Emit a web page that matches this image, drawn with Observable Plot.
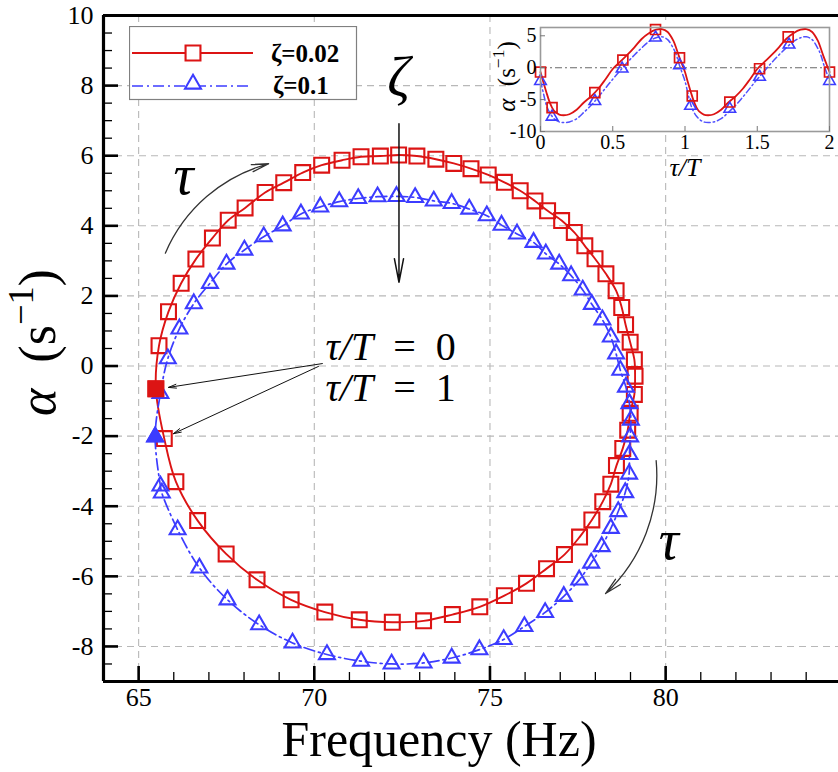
<!DOCTYPE html>
<html>
<head>
<meta charset="utf-8">
<script src="https://cdn.jsdelivr.net/npm/d3@7"></script>
<script src="https://cdn.jsdelivr.net/npm/@observablehq/plot@0.6"></script>
<style>
  body { margin: 0; background: #fff; }
  #wrap { position: relative; width: 838px; height: 772px; overflow: hidden; font-family: "Liberation Serif", serif; }
  #wrap > svg { position: absolute; }
  #wrap svg, #wrap svg text, #wrap svg g { font-family: "Liberation Serif", serif !important; }
</style>
</head>
<body>
<div id="wrap"></div>
<script>
// ---------------- data ----------------
// main plot: zeta = 0.02 (red squares), frequency (Hz) and alpha (1/s)
const redFreq = [65.49,65.58,65.85,66.21,66.63,67.10,67.55,68.03,68.60,69.13,69.67,70.21,70.79,71.33,71.88,72.40,72.92,73.46,73.97,74.46,74.95,75.41,75.86,76.28,76.64,77.04,77.40,77.70,77.99,78.30,78.59,78.75,78.86,78.99,79.11,79.13,79.11,78.99,78.92,78.78,78.60,78.44,78.21,77.90,77.55,77.12,76.61,76.04,75.41,74.71,73.93,73.11,72.22,71.28,70.30,69.34,68.37,67.49,66.68,66.06,65.73];
const redAlpha = [-0.65,0.58,1.55,2.36,3.05,3.65,4.16,4.51,4.95,5.23,5.52,5.73,5.87,5.97,5.99,6.02,5.99,5.90,5.78,5.63,5.45,5.24,5.00,4.71,4.43,4.15,3.81,3.43,3.06,2.63,2.15,1.67,1.18,0.68,0.18,-0.29,-0.81,-1.35,-1.83,-2.35,-2.84,-3.37,-3.87,-4.39,-4.88,-5.38,-5.78,-6.20,-6.55,-6.87,-7.09,-7.27,-7.31,-7.24,-7.02,-6.67,-6.10,-5.36,-4.41,-3.30,-2.07];
// zeta = 0.1 (blue triangles)
const blueFreq = [65.47,65.62,65.83,66.16,66.57,67.03,67.50,68.01,68.56,69.10,69.62,70.17,70.71,71.25,71.80,72.34,72.87,73.40,73.91,74.41,74.91,75.33,75.77,76.24,76.59,76.97,77.31,77.64,77.90,78.20,78.44,78.59,78.71,78.87,78.97,79.01,78.99,78.97,78.96,78.85,78.65,78.44,78.18,77.88,77.54,77.10,76.57,75.98,75.39,74.70,73.91,73.11,72.20,71.33,70.36,69.38,68.43,67.53,66.73,66.11,65.66,65.62];
const blueAlpha = [-2.02,-0.78,0.21,1.06,1.78,2.36,2.91,3.31,3.69,4.00,4.34,4.54,4.69,4.78,4.83,4.84,4.81,4.71,4.64,4.48,4.29,4.02,3.77,3.53,3.20,2.91,2.58,2.17,1.76,1.32,0.83,0.35,-0.12,-0.60,-1.07,-1.54,-2.02,-2.52,-3.08,-3.61,-4.15,-4.63,-5.15,-5.62,-6.10,-6.57,-7.03,-7.43,-7.80,-8.09,-8.33,-8.47,-8.50,-8.42,-8.23,-7.90,-7.38,-6.67,-5.76,-4.67,-3.62,-3.42];

// inset: alpha vs tau/T
const insetTau = [0,0.02,0.04,0.06,0.08,0.10,0.13,0.16,0.20,0.25,0.30,0.35,0.40,0.45,0.50,0.55,0.60,0.65,0.70,0.75,0.80,0.84,0.88,0.92,0.94,0.96,0.98,
                  1.00,1.02,1.04,1.06,1.08,1.10,1.13,1.16,1.20,1.25,1.30,1.35,1.40,1.45,1.50,1.55,1.60,1.65,1.70,1.75,1.80,1.84,1.88,1.92,1.94,1.96,1.98,2.00];
const insetRedAlpha = [-0.68,-2.3,-3.8,-5.2,-6.25,-6.9,-7.35,-7.45,-7.3,-6.6,-5.45,-4.5,-3.3,-1.8,-0.2,0.9,2.0,3.2,4.5,5.4,5.95,6.05,5.6,4.2,3.0,1.7,0.5,
                       -0.68,-2.3,-3.8,-5.2,-6.25,-6.9,-7.35,-7.45,-7.3,-6.6,-5.45,-4.5,-3.3,-1.8,-0.2,0.9,2.0,3.2,4.5,5.4,5.95,6.05,5.6,4.2,3.0,1.7,0.5,-0.68];
const insetBlueAlpha = [-2.1,-4.0,-5.8,-6.9,-7.6,-8.1,-8.5,-8.6,-8.5,-8.0,-7.0,-5.9,-4.6,-3.2,-1.8,-0.5,0.8,2.0,3.1,4.1,4.7,4.85,4.4,3.0,2.0,0.5,-0.8,
                        -2.1,-4.0,-5.8,-6.9,-7.6,-8.1,-8.5,-8.6,-8.5,-8.0,-7.0,-5.9,-4.6,-3.2,-1.8,-0.5,0.8,2.0,3.1,4.1,4.7,4.85,4.4,3.0,2.0,0.5,-0.8,-2.1];
const insetRedMarkTau = [0,0.08,0.376,0.57,0.796,0.962,1.05,1.31,1.516,1.714,2.0];
const insetRedMarkAlpha = [-0.68,-6.25,-3.91,1.2,5.98,1.56,-4.43,-5.38,-0.16,4.84,-0.68];
const insetBlueMarkTau = [0,0.08,0.376,0.565,0.796,0.962,1.038,1.31,1.516,1.72,2.0];
const insetBlueMarkAlpha = [-2.1,-7.7,-5.25,-0.16,4.7,0.36,-6.0,-6.45,-1.45,3.6,-2.1];

// tick labels
const xTicks = [65, 70, 75, 80];
const yTicks = [-8, -6, -4, -2, 0, 2, 4, 6, 8, 10];
const insetXTicks = [0, 0.5, 1, 1.5, 2];
const insetYTicks = [-10, -5, 0, 5];
const seriesNames = ["ζ=0.02", "ζ=0.1"];

// annotations (data coordinates)
const zetaLabel = [{x: 72.40, y: 8.22, t: "ζ"}];
const tauLabels = [{x: 66.28, y: 5.42, t: "τ"}, {x: 80.09, y: -4.99, t: "τ"}];
const phaseLabels = [{x: 70.32, y: 0.55, t: "τ/T\u2002=\u20020"}, {x: 70.32, y: -0.63, t: "τ/T\u2002=\u20021"}];
const zetaArrow = [{x1: 72.41, y1: 6.91, x2: 72.41, y2: 2.39}];
const tauArrows = [{x1: 65.76, y1: 3.22, x2: 68.70, y2: 5.77}, {x1: 79.73, y1: -2.70, x2: 78.29, y2: -6.49}];
const phaseArrows = [{x1: 70.23, y1: 0.07, x2: 65.85, y2: -0.61}, {x1: 70.12, y1: -0.01, x2: 65.99, y2: -1.93}];

// ---------------- build ----------------
const RED = "#dc1414", BLUE = "#3c3cff";
const FONT = '"Liberation Serif", serif';
const red = redFreq.map((f, i) => ({f, a: redAlpha[i]}));
const blue = blueFreq.map((f, i) => ({f, a: blueAlpha[i]}));
const xMinor = d3.range(64, 85, 1).filter(v => !xTicks.includes(v));
const yMinor = d3.range(-9, 10.01, 0.5).filter(v => !yTicks.includes(v));
const grid = {stroke: "#b8b8b8", strokeOpacity: 1, strokeWidth: 1.1, strokeDasharray: "7,5"};
const fmt = d => String(d);

const main = Plot.plot({
  width: 838, height: 772,
  marginLeft: 103, marginRight: 0, marginTop: 15, marginBottom: 91,
  x: {domain: [64, 84.92]},
  y: {domain: [-9, 10]},
  style: {fontFamily: FONT, fontSize: "26px", color: "#000", background: "transparent", overflow: "visible"},
  marks: [
    Plot.gridX(xTicks, grid),
    Plot.gridY(yTicks.filter(v => v < 10), grid),
    Plot.axisX(xTicks, {tickSize: 0, tickPadding: 6, tickFormat: fmt, label: null, fontSize: 26, fontFamily: FONT}),
    Plot.axisX(xTicks, {tickSize: 15, dy: -15, text: null, strokeWidth: 2.6, label: null}),
    Plot.axisX(xMinor, {tickSize: 9, dy: -9, text: null, strokeWidth: 1.3, label: null}),
    Plot.axisY(yTicks, {tickSize: 0, tickPadding: 10, tickFormat: fmt, label: null, fontSize: 26, fontFamily: FONT}),
    Plot.axisY(yTicks, {tickSize: 15, dx: 15, text: null, strokeWidth: 2.6, label: null}),
    Plot.axisY(yMinor, {tickSize: 9, dx: 9, text: null, strokeWidth: 1.3, label: null}),
    Plot.ruleX([64], {strokeWidth: 3.2}),
    Plot.ruleY([-9], {strokeWidth: 3.2}),
    Plot.ruleY([10], {strokeWidth: 3.2}),
    // series
    Plot.line(red, {x: "f", y: "a", curve: "catmull-rom-closed", stroke: RED, strokeWidth: 1.9}),
    Plot.dot(red, {x: "f", y: "a", symbol: "square", r: 8.4, stroke: RED, strokeWidth: 2.1, fill: "none"}),
    Plot.line(blue, {x: "f", y: "a", curve: "catmull-rom-closed", stroke: BLUE, strokeWidth: 1.7, strokeDasharray: "11,4,2,4"}),
    Plot.dot(blue, {x: "f", y: "a", symbol: "triangle", r: 5.9, stroke: BLUE, strokeWidth: 2.1, fill: "none"}),
    Plot.dot(red.slice(0, 1), {x: "f", y: "a", symbol: "square", r: 8.4, stroke: RED, strokeWidth: 1.8, fill: RED}),
    Plot.dot(blue.slice(0, 1), {x: "f", y: "a", symbol: "triangle", r: 5.9, stroke: BLUE, strokeWidth: 1.8, fill: BLUE}),
    // annotations
    Plot.arrow(zetaArrow, {x1: "x1", y1: "y1", x2: "x2", y2: "y2", stroke: "#111", strokeWidth: 1.5, headLength: 24, headAngle: 22}),
    Plot.arrow(tauArrows, {x1: "x1", y1: "y1", x2: "x2", y2: "y2", bend: 26, stroke: "#333", strokeWidth: 1.3, headLength: 20, headAngle: 24}),
    Plot.arrow(phaseArrows, {x1: "x1", y1: "y1", x2: "x2", y2: "y2", stroke: "#111", strokeWidth: 1, headLength: 12, headAngle: 28}),
    Plot.text(zetaLabel, {x: "x", y: "y", text: "t", fontSize: 56, fontStyle: "italic", fontFamily: FONT}),
    Plot.text(tauLabels, {x: "x", y: "y", text: "t", fontSize: 56, fontStyle: "italic", fontFamily: FONT}),
    Plot.text(phaseLabels, {x: "x", y: "y", text: "t", fontSize: 40, textAnchor: "start", fontFamily: FONT}),
    // axis titles
    Plot.text(["Frequency (Hz)"], {frameAnchor: "bottom", textAnchor: "middle", lineAnchor: "middle", dx: -32, dy: 58, fontSize: 50, fontFamily: FONT}),
    Plot.text(["α (s−1)"], {frameAnchor: "left", textAnchor: "middle", lineAnchor: "middle", rotate: -90, dx: -65, dy: -6, fontSize: 52, fontFamily: FONT})
  ]
});

// inset
const insetRed = insetTau.map((t, i) => ({t, a: insetRedAlpha[i]}));
const insetBlue = insetTau.map((t, i) => ({t, a: insetBlueAlpha[i]}));
const insetRedMarks = insetRedMarkTau.map((t, i) => ({t, a: insetRedMarkAlpha[i]}));
const insetBlueMarks = insetBlueMarkTau.map((t, i) => ({t, a: insetBlueMarkAlpha[i]}));
const inset = Plot.plot({
  width: 348, height: 167,
  marginLeft: 50, marginRight: 9, marginTop: 9, marginBottom: 54,
  x: {domain: [0, 2]},
  y: {domain: [-10, 6.3]},
  style: {fontFamily: FONT, fontSize: "20px", color: "#000", background: "transparent", overflow: "visible"},
  marks: [
    Plot.ruleY([0], {stroke: "#6a6a6a", strokeWidth: 1.1, strokeDasharray: "7,3,2,3"}),
    Plot.line(insetBlue, {x: "t", y: "a", curve: "catmull-rom", stroke: "#5050ff", strokeWidth: 1.5, strokeDasharray: "6,3,1.5,3"}),
    Plot.line(insetRed, {x: "t", y: "a", curve: "catmull-rom", stroke: RED, strokeWidth: 1.8}),
    Plot.dot(insetBlueMarks, {x: "t", y: "a", symbol: "triangle", r: 4.3, stroke: BLUE, strokeWidth: 1.6, fill: "none"}),
    Plot.dot(insetRedMarks, {x: "t", y: "a", symbol: "square", r: 5.6, stroke: RED, strokeWidth: 1.7, fill: "none"}),
    Plot.frame({stroke: "#9a9a9a", strokeWidth: 1.6}),
    Plot.axisX(insetXTicks, {tickSize: 0, tickPadding: 3, tickFormat: fmt, label: null, fontFamily: FONT}),
    Plot.axisX(insetXTicks, {tickSize: 5, dy: -5, text: null, stroke: "#777", label: null}),
    Plot.axisY(insetYTicks, {tickSize: 0, tickPadding: 4, tickFormat: fmt, label: null, fontFamily: FONT}),
    Plot.axisY(insetYTicks, {tickSize: 5, dx: 5, text: null, stroke: "#777", label: null}),
    Plot.text(["τ/T"], {frameAnchor: "bottom", textAnchor: "middle", lineAnchor: "middle", dy: 36, fontSize: 26, fontStyle: "italic", fontFamily: FONT}),
    Plot.text(["α (s−1)"], {frameAnchor: "left", textAnchor: "middle", lineAnchor: "middle", rotate: -90, dx: -34, dy: -3, fontSize: 25, fontFamily: FONT})
  ]
});

// rich text (italic math symbols, superscript), matched by content
function richText(svg, size) {
  d3.select(svg).selectAll("text").each(function() {
    const el = d3.select(this);
    if (this.querySelector("tspan")) return;
    const s = this.textContent;
    let m = s.match(/^(α)\s*\((s)(−1)\)$/);
    if (m) {
      el.text(null);
      el.append("tspan").attr("font-style", "italic").text(m[1]);
      el.append("tspan").text("\u2002(" + m[2]);
      el.append("tspan").attr("font-size", "70%").attr("dy", -0.42 * size).text(m[3]);
      el.append("tspan").attr("dy", 0.42 * size).text(")");
      return;
    }
    m = s.match(/^(τ\/T)(\u2002.*)$/);
    if (m) {
      el.text(null);
      el.append("tspan").attr("font-style", "italic").text(m[1]);
      el.append("tspan").text(m[2]);
    }
  });
}
richText(main, 52);
richText(inset, 25);

// white backdrop of the inset
d3.select(inset).insert("rect", ":first-child")
  .attr("x", 16).attr("y", 2).attr("width", 332).attr("height", 112).attr("fill", "#fff");

// legend
const legend = d3.create("svg").attr("width", 230).attr("height", 76)
  .style("left", "129px").style("top", "26px");
legend.append("rect").attr("x", 0.5).attr("y", 0.5).attr("width", 227).attr("height", 73)
  .attr("fill", "#fff").attr("stroke", "#808080").attr("stroke-width", 1.2);
const sym = (type, r) => d3.symbol(type, Math.PI * r * r)();
legend.append("line").attr("x1", 3).attr("x2", 124).attr("y1", 27).attr("y2", 27)
  .attr("stroke", RED).attr("stroke-width", 1.9);
legend.append("path").attr("d", sym(d3.symbolSquare, 8.4)).attr("transform", "translate(64,27)")
  .attr("fill", "#fff").attr("stroke", RED).attr("stroke-width", 2.1);
legend.append("line").attr("x1", 3).attr("x2", 121).attr("y1", 60).attr("y2", 60)
  .attr("stroke", BLUE).attr("stroke-width", 1.7).attr("stroke-dasharray", "11,4,2,4");
legend.append("path").attr("d", sym(d3.symbolTriangle, 5.9)).attr("transform", "translate(64,58)")
  .attr("fill", "#fff").attr("stroke", BLUE).attr("stroke-width", 2.1);
legend.selectAll("text.name").data(seriesNames).join("text")
  .attr("class", "name")
  .attr("x", (d, i) => i === 0 ? 142 : 144)
  .attr("y", (d, i) => i === 0 ? 27 : 59)
  .attr("dy", "0.35em")
  .attr("font-weight", "bold")
  .attr("font-size", 25)
  .text(d => d);

const wrap = document.getElementById("wrap");
main.style.left = "0px"; main.style.top = "0px";
inset.style.left = "490px"; inset.style.top = "18px";
wrap.appendChild(main);
wrap.appendChild(legend.node());
wrap.appendChild(inset);
</script>
</body>
</html>
